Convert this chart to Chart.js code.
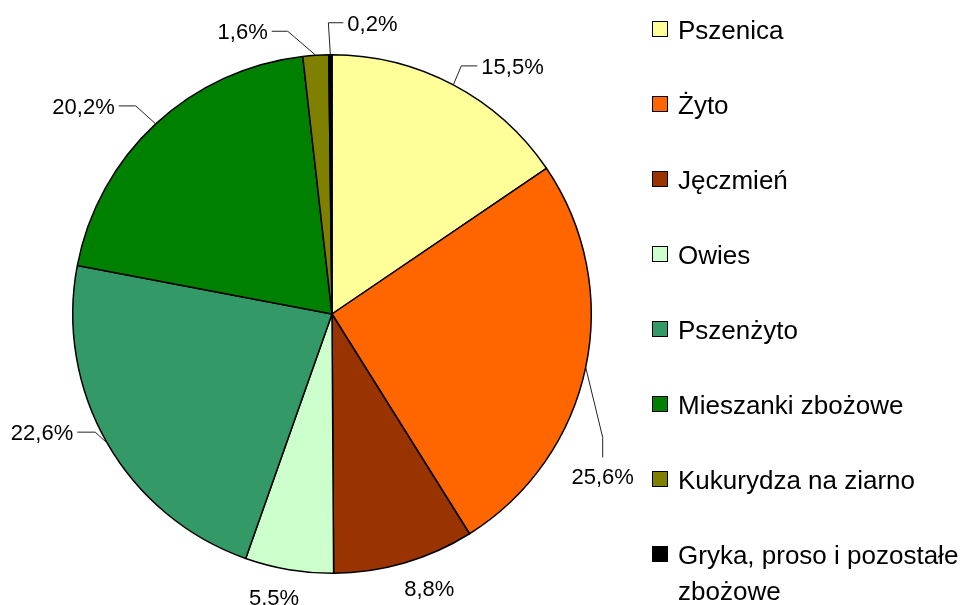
<!DOCTYPE html>
<html>
<head>
<meta charset="utf-8">
<script src="https://cdn.jsdelivr.net/npm/chart.js@4/dist/chart.umd.min.js"></script>
<style>
  body { margin: 0; background: #fff; }
  #wrap { width: 960px; height: 605px; }
</style>
</head>
<body>
<div id="wrap"><canvas id="mycanvas" width="960" height="605"></canvas></div>
<script>
// dane
var categories = ['Pszenica', 'Żyto', 'Jęczmień', 'Owies', 'Pszenżyto', 'Mieszanki zbożowe', 'Kukurydza na ziarno', 'Gryka, proso i pozostałe zbożowe'];
var shares = [15.5, 25.6, 8.8, 5.5, 22.6, 20.2, 1.6, 0.2];
var colors = ['#FFFF99', '#FF6600', '#993300', '#CCFFCC', '#339966', '#008000', '#808000', '#000000'];

// where the leader line bends (relative to the edge point), how long the tail is, and where the text goes
var leaders = [
  {dx: 8, dy: -19, tail: 16, dir: 'h', align: 'left'},
  {dx: 17, dy: 70, tail: 20, dir: 'v', align: 'center'},
  {dx: 25, dy: 25, tail: 0, dir: 'none', align: 'center'},
  {dx: -15, dy: 27, tail: 0, dir: 'none', align: 'center'},
  {dx: -12, dy: -11, tail: -18, dir: 'h', align: 'right'},
  {dx: -20, dy: -18, tail: -17, dir: 'h', align: 'right'},
  {dx: -28, dy: -24, tail: -16, dir: 'h', align: 'right'},
  {dx: -2, dy: -32, tail: 15, dir: 'h', align: 'left'}
];

function fmt(v){
  return v.toFixed(1).replace('.', ',') + '%';
}

var pieLabels = {
  id: 'pieLabels',
  afterDatasetsDraw: function(chart){
    var ctx = chart.ctx;
    var arcs = chart.getDatasetMeta(0).data;
    ctx.save();
    ctx.font = '22px "Liberation Sans", Arial, sans-serif';
    ctx.fillStyle = '#000';
    ctx.strokeStyle = '#222';
    ctx.lineWidth = 1;
    ctx.textBaseline = 'alphabetic';
    for (var i = 0; i < arcs.length; i++) {
      var a = arcs[i].getProps(['x', 'y', 'startAngle', 'endAngle', 'outerRadius'], true);
      var mid = (a.startAngle + a.endAngle) / 2;
      var ex = a.x + Math.cos(mid) * a.outerRadius;
      var ey = a.y + Math.sin(mid) * a.outerRadius;
      var L = leaders[i];
      var bx = ex + L.dx, by = ey + L.dy;
      var txt = fmt(shares[i]);
      if (L.dir == 'none') {
        ctx.textAlign = 'center';
        ctx.fillText(txt, bx, by + 8);
        continue;
      }
      ctx.beginPath();
      ctx.moveTo(ex, ey);
      ctx.lineTo(bx, by);
      if (L.dir == 'h') {
        ctx.lineTo(bx + L.tail, by);
      } else {
        ctx.lineTo(bx, by + L.tail);
      }
      ctx.stroke();
      ctx.textAlign = L.align;
      if (L.dir == 'h') {
        var tx = bx + L.tail + (L.tail > 0 ? 4 : -4);
        ctx.fillText(txt, tx, by + 8);
      } else {
        ctx.fillText(txt, bx, by + L.tail + 27);
      }
    }
    ctx.restore();
  }
};

var sideLegend = {
  id: 'sideLegend',
  afterDraw: function(chart){
    var ctx = chart.ctx;
    ctx.save();
    ctx.font = '26px "Liberation Sans", Arial, sans-serif';
    ctx.textAlign = 'left';
    ctx.textBaseline = 'alphabetic';
    for (var i = 0; i < categories.length; i++) {
      var y = 39 + i * 75;
      ctx.fillStyle = colors[i];
      ctx.fillRect(652.5, y - 17.5, 15, 15);
      ctx.strokeStyle = '#000';
      ctx.lineWidth = 1;
      ctx.strokeRect(652.5, y - 17.5, 15, 15);
      ctx.fillStyle = '#000';
      // zawijanie tekstu
      var words = categories[i].split(' ');
      var line = '', ly = y;
      for (var w = 0; w < words.length; w++) {
        var test = line ? line + ' ' + words[w] : words[w];
        if (ctx.measureText(test).width > 285 && line) {
          ctx.fillText(line, 678, ly);
          line = words[w];
          ly += 36;
        } else {
          line = test;
        }
      }
      ctx.fillText(line, 678, ly);
    }
    ctx.restore();
  }
};

var chartdata = {
  labels: categories,
  datasets: [{
    data: shares,
    backgroundColor: colors,
    borderColor: '#000',
    borderWidth: 1.5,
    hoverOffset: 0
  }]
};

var ctx = document.getElementById('mycanvas');
var pie = new Chart(ctx, {
  type: 'pie',
  data: chartdata,
  options: {
    responsive: false,
    animation: false,
    events: [],
    layout: { padding: { left: 72, top: 54, right: 368, bottom: 31 } },
    plugins: {
      legend: { display: false },
      tooltip: { enabled: false }
    }
  },
  plugins: [pieLabels, sideLegend]
});
</script>
</body>
</html>
